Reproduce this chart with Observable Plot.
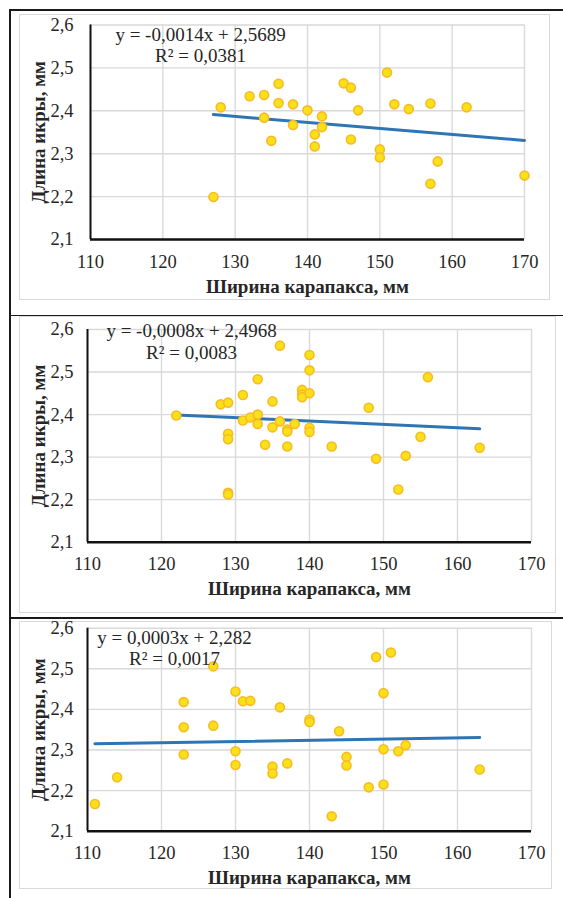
<!DOCTYPE html>
<html><head><meta charset="utf-8">
<script src="https://cdn.jsdelivr.net/npm/d3@7"></script>
<script src="https://cdn.jsdelivr.net/npm/@observablehq/plot@0.6"></script>
<style>
body{margin:0;background:#fff;}
#page{position:relative;width:563px;height:898px;overflow:hidden;background:#fff;font-family:"Liberation Serif","Times New Roman",serif;}
.rule{position:absolute;background:#1a1a1a;}
.frame{position:absolute;border:1.5px solid #d9d9d9;box-sizing:border-box;}
.panel{position:absolute;left:0;}
.panel svg{overflow:visible;}
.panel svg text{font-family:"Liberation Serif","Times New Roman",serif;}
</style></head><body><div id="page"></div>
<script>
// ---- data ----
const xTicks = [110, 120, 130, 140, 150, 160, 170];
const yTicks = [2.1, 2.2, 2.3, 2.4, 2.5, 2.6];
const xTitle = "Ширина карапакса, мм";
const yTitle = "Длина икры, мм";

// panel 1
const width1  = [127, 128, 132, 134, 134, 135, 136, 136, 138, 138, 140, 141, 141, 142, 142, 145, 146, 146, 147, 150, 150, 151, 152, 154, 157, 157, 158, 162, 170];
const length1 = [2.199, 2.408, 2.434, 2.437, 2.384, 2.330, 2.463, 2.418, 2.415, 2.367, 2.401, 2.345, 2.317, 2.387, 2.362, 2.464, 2.454, 2.333, 2.401, 2.310, 2.291, 2.489, 2.415, 2.404, 2.417, 2.230, 2.282, 2.408, 2.249];

// panel 2
const width2  = [122, 128, 129, 129, 129, 129, 129, 131, 131, 132, 133, 133, 133, 134, 135, 135, 136, 136, 137, 137, 137, 138, 139, 139, 139, 140, 140, 140, 140, 140, 143, 148, 149, 152, 153, 155, 156, 163];
const length2 = [2.398, 2.424, 2.428, 2.355, 2.342, 2.216, 2.212, 2.446, 2.386, 2.393, 2.483, 2.400, 2.378, 2.329, 2.431, 2.370, 2.562, 2.384, 2.365, 2.360, 2.325, 2.378, 2.458, 2.447, 2.441, 2.540, 2.504, 2.450, 2.369, 2.359, 2.325, 2.416, 2.296, 2.224, 2.303, 2.348, 2.488, 2.322];

// panel 3
const width3  = [111, 114, 123, 123, 123, 127, 127, 130, 130, 130, 131, 132, 135, 135, 136, 137, 140, 140, 143, 144, 145, 145, 148, 149, 150, 150, 150, 151, 152, 153, 163];
const length3 = [2.167, 2.233, 2.418, 2.356, 2.289, 2.506, 2.360, 2.444, 2.297, 2.263, 2.420, 2.421, 2.259, 2.242, 2.405, 2.267, 2.375, 2.369, 2.137, 2.346, 2.283, 2.262, 2.208, 2.529, 2.440, 2.302, 2.215, 2.540, 2.297, 2.312, 2.252];

const equations = ["y = -0,0014x + 2,5689", "y = -0,0008x + 2,4968", "y = 0,0003x + 2,282"];
const rSquared  = ["R² = 0,0381", "R² = 0,0083", "R² = 0,0017"];
const slopes     = [-0.0014, -0.0008, 0.0003];
const intercepts = [2.5689, 2.4968, 2.282];

// ---- layout ----
const page = document.getElementById("page");
function box(cls, l, t, w, h) {
  const d = document.createElement("div");
  d.className = cls;
  Object.assign(d.style, {left: l + "px", top: t + "px", width: w + "px", height: h + "px"});
  page.appendChild(d);
}
// panel frames
box("frame", 19, 14, 531, 286);
box("frame", 19, 316, 537, 297);
box("frame", 19, 621, 533, 268);
// black table rules
box("rule", 9, 9, 554, 2);
box("rule", 9, 9, 2, 889);
box("rule", 9, 314.5, 554, 1.5);
box("rule", 9, 617, 554, 1.5);

const serif = "'Liberation Serif','Times New Roman',serif";
const panels = [
  {xs: width1, ys: length1, top: 0,   height: 300, mt: 24.5, mb: 61,   ml: 90, mr: 39, yPad: 17, eqDx: 110, eqDy: 10,  rDy: 31,   yDx: -52},
  {xs: width2, ys: length2, top: 316, height: 296, mt: 13,   mb: 70.3, ml: 87, mr: 32, yPad: 14, eqDx: 104, eqDy: 1,   rDy: 23,   yDx: -49},
  {xs: width3, ys: length3, top: 620, height: 270, mt: 7.7,  mb: 59.3, ml: 87, mr: 32, yPad: 14, eqDx: 87,  eqDy: 9.5, rDy: 30.5, yDx: -49}
];

const fmtY = v => v.toFixed(1).replace(".", ",");

panels.forEach((P, i) => {
  const data = P.xs.map((x, j) => ({x, y: P.ys[j]}));
  const ext = d3.extent(P.xs);
  const trend = ext.map(x => ({x, y: slopes[i] * x + intercepts[i]}));
  const chart = Plot.plot({
    width: 563,
    height: P.height,
    marginLeft: P.ml, marginRight: P.mr, marginTop: P.mt, marginBottom: P.mb,
    style: {fontFamily: serif, fontSize: "18.5px", color: "#262626", background: "transparent"},
    x: {domain: [110, 170], ticks: xTicks, label: null},
    y: {domain: [2.1, 2.6], ticks: yTicks, label: null, tickFormat: fmtY},
    marks: [
      Plot.gridX(xTicks, {stroke: "#d9d9d9", strokeOpacity: 1, strokeWidth: 1.4}),
      Plot.gridY(yTicks, {stroke: "#d9d9d9", strokeOpacity: 1, strokeWidth: 1.4}),
      Plot.axisX({ticks: xTicks, tickSize: 0, tickPadding: 15, label: null, fontFamily: serif, fontSize: 18.5}),
      Plot.axisY({ticks: yTicks, tickSize: 0, tickPadding: P.yPad, label: null, tickFormat: fmtY, fontFamily: serif, fontSize: 18.5}),
      Plot.ruleY([2.1], {stroke: "#111", strokeWidth: 2.6}),
      Plot.ruleX([110], {stroke: "#111", strokeWidth: 2}),
      Plot.line(trend, {x: "x", y: "y", stroke: "#2e75b6", strokeWidth: 3}),
      Plot.dot(data, {x: "x", y: "y", r: 4.5, fill: "#f7e21a", stroke: "#fbb924", strokeWidth: 1.6}),
      Plot.text([equations[i]], {text: d => d, frameAnchor: "top-left", dx: P.eqDx, dy: P.eqDy, textAnchor: "middle", lineAnchor: "middle", fontSize: 19, fontFamily: serif, fill: "#262626"}),
      Plot.text([rSquared[i]], {text: d => d, frameAnchor: "top-left", dx: P.eqDx, dy: P.rDy, textAnchor: "middle", lineAnchor: "middle", fontSize: 19, fontFamily: serif, fill: "#262626"}),
      Plot.text([xTitle], {text: d => d, frameAnchor: "bottom", dy: 47, textAnchor: "middle", lineAnchor: "middle", fontWeight: "bold", fontSize: 19, fontFamily: serif, fill: "#262626"}),
      Plot.text([yTitle], {text: d => d, frameAnchor: "left", dx: P.yDx, rotate: -90, textAnchor: "middle", lineAnchor: "middle", fontWeight: "bold", fontSize: 19, fontFamily: serif, fill: "#262626"})
    ]
  });
  const wrap = document.createElement("div");
  wrap.className = "panel";
  wrap.style.top = P.top + "px";
  wrap.appendChild(chart);
  page.appendChild(wrap);
});
</script>
</body></html>
